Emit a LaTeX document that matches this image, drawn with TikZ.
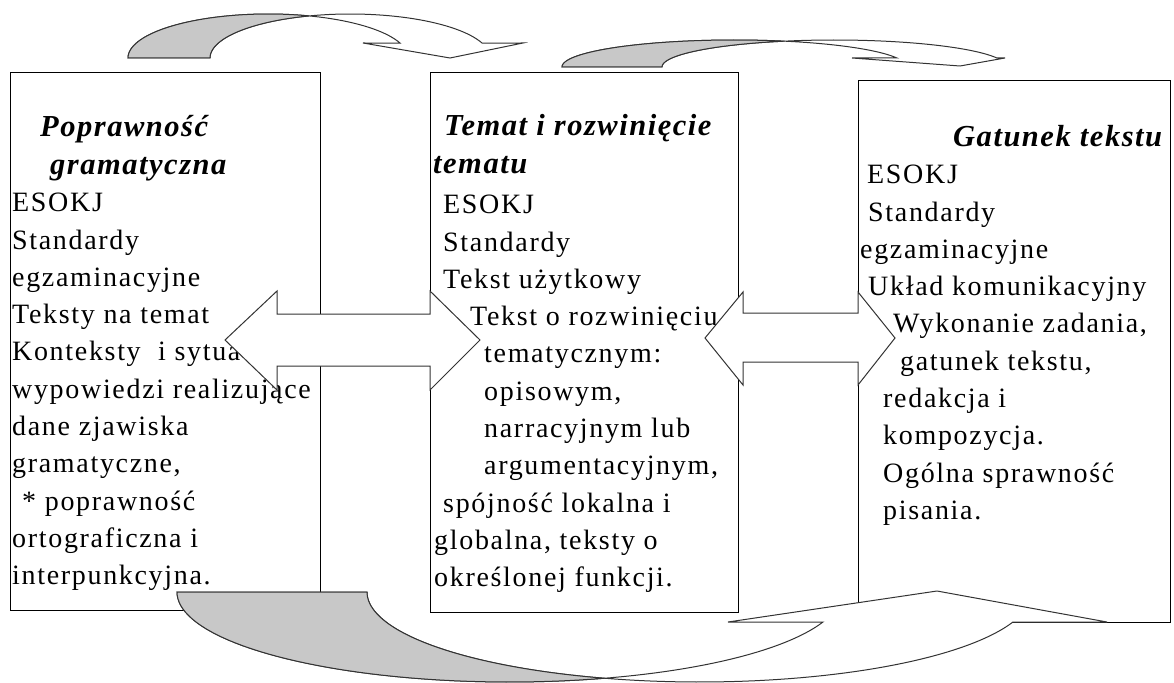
\documentclass[tikz,border=0pt]{standalone}
\usepackage{fontspec}
\setmainfont{Liberation Serif}
\newfontfamily\plainfont[LetterSpace=6]{Liberation Serif}
\newfontfamily\headfont[LetterSpace=5]{Liberation Serif}
\usetikzlibrary{positioning}
\definecolor{tailgray}{RGB}{200,200,200}

\begin{document}
\begin{tikzpicture}[x=1pt, y=-1pt,
    panel/.style={draw, line width=1.3pt, anchor=north west, inner sep=0pt},
    body/.style={anchor=north west, inner sep=0pt, align=left,
        font=\plainfont\fontsize{28}{37.3}\selectfont},
    heading/.style={anchor=north west, inner sep=0pt, align=left,
        font=\headfont\bfseries\itshape\fontsize{30.5}{38}\selectfont},
    blockarrow/.style={draw=black!80, line width=1pt, fill=white},
    tail/.style={draw=black!80, line width=1pt, fill=tailgray}]
    \useasboundingbox (0,0) rectangle (1174,682);

    % Boxes
    \node[panel, minimum width=310pt, minimum height=538pt] (gram) at (10,72) {};
    \node[panel, minimum width=308pt, minimum height=540pt] (temat) at (430,72) {};
    \node[panel, minimum width=312pt, minimum height=542pt] (gat) at (858,80) {};

    % Texts
    \node[heading] (gramtitle) at (40,115) {Poprawność\\\hspace*{10pt}gramatyczna};
    \node[body] (gramtext) at (12,193) {ESOKJ\\Standardy\\egzaminacyjne\\Teksty na temat\\
        Konteksty\ \ i sytua\\wypowiedzi realizujące\\dane zjawiska\\gramatyczne,\\
        \hspace*{10pt}* poprawność\\ortograficzna i\\interpunkcyjna.};
    \node[heading] (tematitle) at (433,114) {\hspace*{11pt}Temat i rozwinięcie\\tematu};
    \node[body] (tematext) at (434,195) {\hspace*{9pt}ESOKJ\\\hspace*{9pt}Standardy\\
        \hspace*{9pt}Tekst użytkowy\\\hspace*{36pt}Tekst o rozwinięciu\\
        \hspace*{50pt}tematycznym:\\\hspace*{50pt}opisowym,\\\hspace*{50pt}narracyjnym lub\\
        \hspace*{50pt}argumentacyjnym,\\\hspace*{9pt}spójność lokalna i\\
        globalna, teksty o\\określonej funkcji.};
    \node[heading] (gattitle) at (953,125) {Gatunek tekstu};
    \node[body] (gattext) at (860,165) {\hspace*{7pt}ESOKJ\\\hspace*{8pt}Standardy\\
        egzaminacyjne\\\hspace*{8pt}Układ komunikacyjny\\\hspace*{33pt}Wykonanie zadania,\\
        \hspace*{40pt}gatunek tekstu,\\\hspace*{23pt}redakcja i\\\hspace*{23pt}kompozycja.\\
        \hspace*{23pt}Ogólna sprawność\\\hspace*{23pt}pisania.};

    % Double arrows between the boxes
    \filldraw[blockarrow] (225,340) -- (277,291) -- (277,314) -- (430,314) -- (430,291)
        -- (480,340) -- (430,390) -- (430,366) -- (277,366) -- (277,390) -- cycle;
    \filldraw[blockarrow] (705,338) -- (743,292) -- (743,313) -- (858,313) -- (858,292)
        -- (895,338) -- (858,385) -- (858,362) -- (743,362) -- (743,385) -- cycle;

    % Curved arrows on top
    \filldraw[blockarrow] (128,58)
        -- plot[domain=180:19.9, samples=60] ({268.2+140.2*cos(\x)},{58-44*sin(\x)})
        -- (363,43) -- (450,58) -- (523,43)
        -- plot[domain=19.9:180, samples=60] ({350.2+140.2*cos(\x)},{58-44*sin(\x)}) -- cycle;
    \filldraw[tail] (128,58)
        -- plot[domain=180:73, samples=40] ({268.2+140.2*cos(\x)},{58-44*sin(\x)})
        -- plot[domain=107:180, samples=40] ({350.2+140.2*cos(\x)},{58-44*sin(\x)}) -- cycle;

    \filldraw[blockarrow] (562,67)
        -- plot[domain=180:19.47, samples=60] ({734.4+172.4*cos(\x)},{67-27*sin(\x)})
        -- (852,58) -- (960,66) -- (1005,58)
        -- plot[domain=19.47:180, samples=60] ({834.4+172.4*cos(\x)},{67-27*sin(\x)}) -- cycle;
    \filldraw[tail] (562,67)
        -- plot[domain=180:73.1, samples=40] ({734.4+172.4*cos(\x)},{67-27*sin(\x)})
        -- plot[domain=106.9:180, samples=40] ({834.4+172.4*cos(\x)},{67-27*sin(\x)}) -- cycle;

    % Curved arrow below
    \filldraw[blockarrow] (177,592)
        -- plot[domain=180:19.47, samples=80] ({509.5+332.5*cos(\x)},{592+90*sin(\x)})
        -- (728,622) -- (937,591) -- (1107,622)
        -- plot[domain=19.47:180, samples=80] ({699.5+332.5*cos(\x)},{592+90*sin(\x)}) -- cycle;
    \filldraw[tail] (177,592)
        -- plot[domain=180:73.4, samples=50] ({509.5+332.5*cos(\x)},{592+90*sin(\x)})
        -- plot[domain=106.6:180, samples=50] ({699.5+332.5*cos(\x)},{592+90*sin(\x)}) -- cycle;
\end{tikzpicture}
\end{document}
